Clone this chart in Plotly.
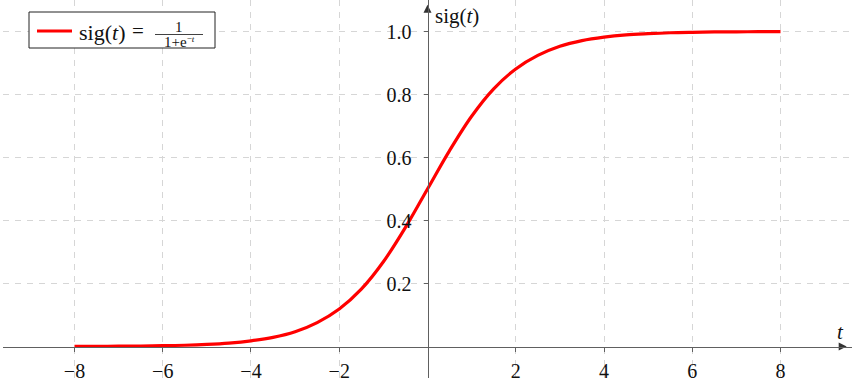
import plotly.graph_objects as go

# ---- data ----
t_vals = [-8, -7.5, -7, -6.5, -6, -5.5, -5, -4.5, -4, -3.5, -3, -2.5, -2, -1.5, -1, -0.5,
          0, 0.5, 1, 1.5, 2, 2.5, 3, 3.5, 4, 4.5, 5, 5.5, 6, 6.5, 7, 7.5, 8]
sig_vals = [0.0003, 0.0006, 0.0009, 0.0015, 0.0025, 0.004, 0.0067, 0.011, 0.018, 0.029,
            0.047, 0.076, 0.119, 0.182, 0.269, 0.378, 0.5, 0.622, 0.731, 0.818, 0.881,
            0.924, 0.953, 0.971, 0.982, 0.989, 0.993, 0.996, 0.9975, 0.9985, 0.999,
            0.9994, 0.9997]
x_tick_vals = [-8, -6, -4, -2, 2, 4, 6, 8]
x_tick_text = ["\u22128", "\u22126", "\u22124", "\u22122", "2", "4", "6", "8"]
y_tick_vals = [0.2, 0.4, 0.6, 0.8, 1.0]
y_tick_text = ["0.2", "0.4", "0.6", "0.8", "1.0"]

W, H = 858, 384
ML, MR, MT, MB = 3, 6, 0, 6
PW, PH = W - ML - MR, H - MT - MB
XR = [-9.62, 9.62]
YR = [-0.1, 1.1]

def px(x):
    return (x - ML) / PW

def py(y):
    return (H - MB - y) / PH

FONT = "'Liberation Serif', 'Times New Roman', serif"
AX = "#606060"
GRID = "#d6d6d6"
TXT = "#111"

fig = go.Figure()
fig.add_trace(go.Scatter(x=t_vals, y=sig_vals, mode="lines",
                         line=dict(color="#ff0000", width=3.2, shape="spline"),
                         showlegend=False, hoverinfo="skip"))
# axis arrow heads
fig.add_trace(go.Scatter(x=[XR[1] - 0.12], y=[0], mode="markers",
                         marker=dict(symbol="arrow-right", size=8, color="#333"),
                         showlegend=False, hoverinfo="skip", cliponaxis=False))
fig.add_trace(go.Scatter(x=[0], y=[YR[1] - 0.015], mode="markers",
                         marker=dict(symbol="arrow-up", size=8, color="#333"),
                         showlegend=False, hoverinfo="skip", cliponaxis=False))

fig.update_layout(
    width=W, height=H,
    margin=dict(l=ML, r=MR, t=MT, b=MB, pad=0, autoexpand=False),
    paper_bgcolor="white", plot_bgcolor="white",
    showlegend=False,
    xaxis=dict(range=XR, anchor="free", position=(0 - YR[0]) / (YR[1] - YR[0]),
               automargin=False,
               showline=True, linecolor=AX, linewidth=1,
               tickvals=x_tick_vals, ticktext=x_tick_text,
               ticks="outside", ticklen=4, tickcolor=AX, tickwidth=1,
               ticklabelstandoff=2,
               showgrid=True, gridcolor=GRID, griddash="6px,6px", gridwidth=1,
               zeroline=False, tickfont=dict(family=FONT, size=20, color=TXT)),
    yaxis=dict(range=YR, anchor="free", position=(0 - XR[0]) / (XR[1] - XR[0]),
               automargin=False,
               showline=True, linecolor=AX, linewidth=1,
               tickvals=y_tick_vals, ticktext=y_tick_text,
               ticks="outside", ticklen=4, tickcolor=AX, tickwidth=1,
               ticklabelstandoff=8,
               showgrid=True, gridcolor=GRID, griddash="6px,6px", gridwidth=1,
               zeroline=False, tickfont=dict(family=FONT, size=20, color=TXT)),
)

# axis labels
fig.add_annotation(x=px(840), y=py(332), xref="paper", yref="paper", text="<i>t</i>",
                   showarrow=False, xanchor="center", yanchor="middle",
                   font=dict(family=FONT, size=21, color=TXT))
fig.add_annotation(x=px(433), y=py(16), xref="paper", yref="paper", text="sig(<i>t</i>)",
                   showarrow=False, xanchor="left", yanchor="middle",
                   font=dict(family=FONT, size=21, color=TXT))

# legend box (drawn)
fig.add_shape(type="rect", xref="paper", yref="paper",
              x0=px(29), x1=px(215), y0=py(48), y1=py(12),
              line=dict(color="#222", width=1), fillcolor="white", layer="above")
fig.add_shape(type="line", xref="paper", yref="paper",
              x0=px(37), x1=px(72), y0=py(31), y1=py(31),
              line=dict(color="#ff0000", width=3.2), layer="above")
fig.add_annotation(x=px(77), y=py(32), xref="paper", yref="paper", text="sig(<i>t</i>)",
                   showarrow=False, xanchor="left", yanchor="middle",
                   font=dict(family=FONT, size=22, color=TXT))
fig.add_annotation(x=px(138), y=py(31), xref="paper", yref="paper", text="=",
                   showarrow=False, xanchor="center", yanchor="middle",
                   font=dict(family=FONT, size=21, color=TXT))
fig.add_annotation(x=px(179), y=py(27), xref="paper", yref="paper", text="1",
                   showarrow=False, xanchor="center", yanchor="middle",
                   font=dict(family=FONT, size=15, color=TXT))
fig.add_shape(type="line", xref="paper", yref="paper",
              x0=px(155), x1=px(203), y0=py(34.5), y1=py(34.5),
              line=dict(color="#111", width=0.8), layer="above")
fig.add_annotation(x=px(179), y=py(42), xref="paper", yref="paper",
                   text="1+e<span style='font-size:13px'><sup>\u2212<i>t</i></sup></span>",
                   showarrow=False, xanchor="center", yanchor="middle",
                   font=dict(family=FONT, size=15, color=TXT))

fig.write_html("out.html")
